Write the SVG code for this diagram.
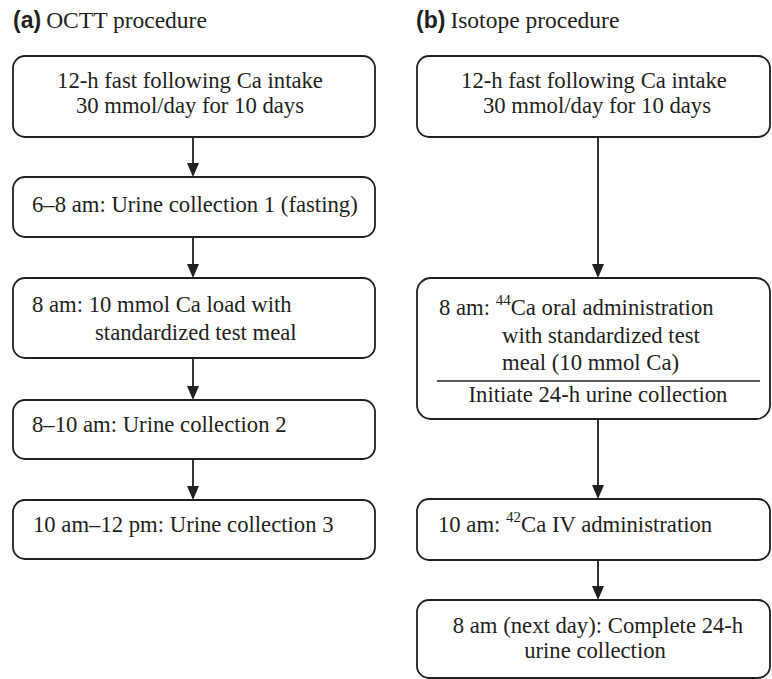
<svg xmlns="http://www.w3.org/2000/svg" width="772" height="679" viewBox="0 0 772 679">
<style>
.box{fill:#fff;stroke:#231f20;stroke-width:1.8}
.t{font-family:"Liberation Serif","Times New Roman",serif;font-size:22.7px;fill:#231f20}
.lab{font-family:"Liberation Sans",Arial,sans-serif;font-weight:bold;font-size:23px;fill:#231f20}
.tt{font-family:"Liberation Serif","Times New Roman",serif;font-weight:normal;font-size:23.5px}
.sup{font-size:15px}
.c{text-anchor:middle}
.ln{stroke:#231f20;stroke-width:1.8;fill:none}
.div{stroke:#231f20;stroke-width:1.4}
</style>
<rect width="772" height="679" fill="#fff"/>
<text x="13" y="28" class="lab">(a)<tspan class="tt" dx="5">OCTT procedure</tspan></text>
<text x="416" y="28" class="lab">(b)<tspan class="tt" dx="5">Isotope procedure</tspan></text>

<g id="connectors">
<line class="ln" x1="193" y1="137" x2="193" y2="163"/><path d="M187,163 L199,163 L193,177 Z" fill="#231f20"/>
<line class="ln" x1="193" y1="237" x2="193" y2="264"/><path d="M187,264 L199,264 L193,278 Z" fill="#231f20"/>
<line class="ln" x1="193" y1="358" x2="193" y2="386"/><path d="M187,386 L199,386 L193,400 Z" fill="#231f20"/>
<line class="ln" x1="193" y1="459" x2="193" y2="486"/><path d="M187,486 L199,486 L193,500 Z" fill="#231f20"/>
<line class="ln" x1="598" y1="137" x2="598" y2="264"/><path d="M592,264 L604,264 L598,278 Z" fill="#231f20"/>
<line class="ln" x1="598" y1="419" x2="598" y2="485"/><path d="M592,485 L604,485 L598,499 Z" fill="#231f20"/>
<line class="ln" x1="598" y1="560" x2="598" y2="586"/><path d="M592,586 L604,586 L598,600 Z" fill="#231f20"/>
</g>

<g id="a1">
<rect class="box" x="13" y="56" width="362" height="81" rx="12"/>
<text class="t c" x="190" y="88">12-h fast following Ca intake</text>
<text class="t c" x="190" y="113">30 mmol/day for 10 days</text>
</g>
<g id="a2">
<rect class="box" x="13" y="177" width="362" height="60" rx="12"/>
<text class="t" x="32" y="212">6–8 am: Urine collection 1 (fasting)</text>
</g>
<g id="a3">
<rect class="box" x="13" y="278" width="362" height="80" rx="12"/>
<text class="t" x="32" y="312">8 am: 10 mmol Ca load with</text>
<text class="t" x="95" y="340">standardized test meal</text>
</g>
<g id="a4">
<rect class="box" x="13" y="400" width="362" height="59" rx="12"/>
<text class="t" x="32" y="432">8–10 am: Urine collection 2</text>
</g>
<g id="a5">
<rect class="box" x="13" y="500" width="362" height="59" rx="12"/>
<text class="t" x="33" y="532">10 am–12 pm: Urine collection 3</text>
</g>

<g id="b1">
<rect class="box" x="417" y="56" width="353" height="81" rx="12"/>
<text class="t c" x="594" y="88">12-h fast following Ca intake</text>
<text class="t c" x="597" y="113">30 mmol/day for 10 days</text>
</g>
<g id="b2">
<rect class="box" x="417" y="278" width="353" height="141" rx="14"/>
<text class="t" x="439" y="315">8 am: <tspan class="sup" dy="-10">44</tspan><tspan dy="10">Ca oral administration</tspan></text>
<text class="t" x="502" y="343">with standardized test</text>
<text class="t" x="502" y="370">meal (10 mmol Ca)</text>
<line class="div" x1="437" y1="381" x2="760" y2="381"/>
<text class="t c" x="598" y="402">Initiate 24-h urine collection</text>
</g>
<g id="b3">
<rect class="box" x="417" y="499" width="353" height="61" rx="12"/>
<text class="t" x="438" y="532">10 am: <tspan class="sup" dy="-10">42</tspan><tspan dy="10">Ca IV administration</tspan></text>
</g>
<g id="b4">
<rect class="box" x="417" y="600" width="353" height="78" rx="12"/>
<text class="t c" x="598" y="633">8 am (next day): Complete 24-h</text>
<text class="t c" x="595" y="658">urine collection</text>
</g>
</svg>
